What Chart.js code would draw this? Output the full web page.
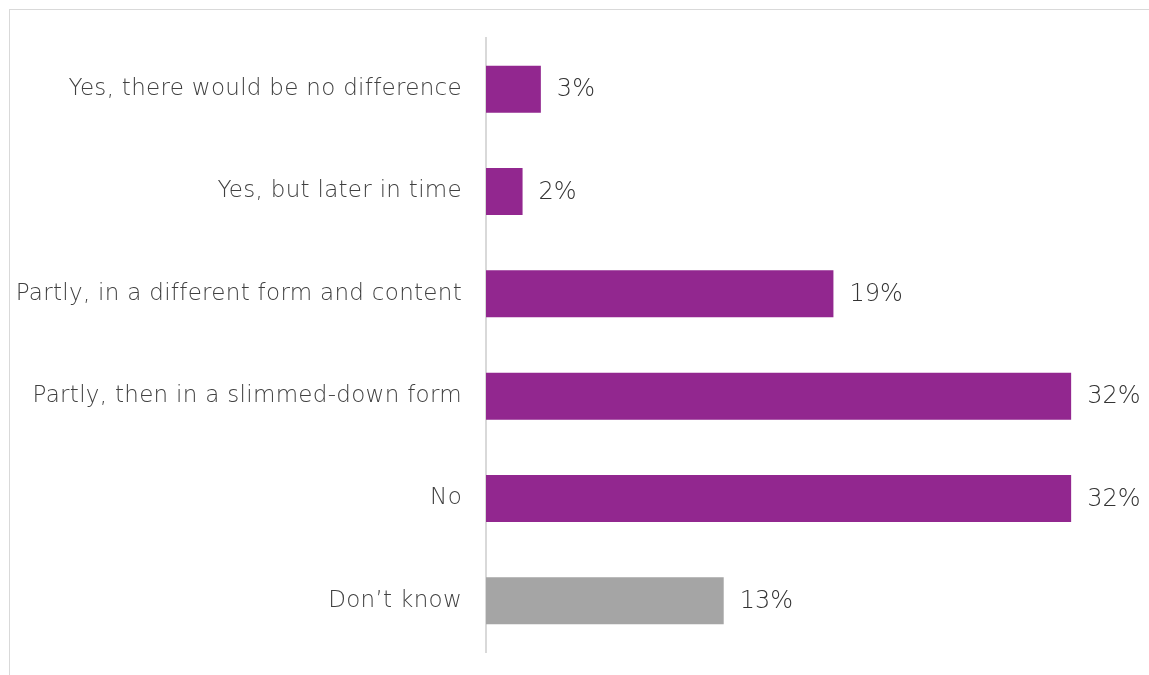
<!DOCTYPE html>
<html>
<head>
<meta charset="utf-8">
<script src="https://cdn.jsdelivr.net/npm/chart.js@4"></script>
<style>
  html, body { margin: 0; padding: 0; background: #fff; overflow: hidden; }
  #frame {
    position: absolute; left: 9px; top: 9px; width: 1200px; height: 700px;
    border: 1px solid #d9d9d9;
  }
  #wrap { position: absolute; left: 0; top: 0; width: 1149px; height: 675px; }
</style>
</head>
<body>
<div id="frame"></div>
<div id="wrap"><canvas id="chart"></canvas></div>
<script>
const categories = [
  'Yes, there would be no difference',
  'Yes, but later in time',
  'Partly, in a different form and content',
  'Partly, then in a slimmed-down form',
  'No',
  'Don\u2019t know'
]
const shares = [3, 2, 19, 32, 32, 13]
const barColors = ['#92278F', '#92278F', '#92278F', '#92278F', '#92278F', '#A5A5A5']

const FONT = '"DejaVu Sans", sans-serif'

// slightly wider letter spacing for the category labels
const spacing = {
  id: 'spacing',
  beforeDraw(chart) { chart.ctx.letterSpacing = '0.3px' }
}

// value labels at the end of each bar
const valueLabels = {
  id: 'valueLabels',
  afterDatasetsDraw(chart) {
    const ctx = chart.ctx
    const meta = chart.getDatasetMeta(0)
    ctx.save()
    ctx.font = '300 24px ' + FONT
    ctx.letterSpacing = '0px'
    ctx.fillStyle = '#333333'
    ctx.textAlign = 'left'
    ctx.textBaseline = 'middle'
    meta.data.forEach((bar, i) => {
      ctx.fillText(shares[i] + '%', bar.x + 16, bar.y + 1)
    })
    ctx.restore()
  }
}

new Chart(document.getElementById('chart'), {
  type: 'bar',
  data: {
    labels: categories,
    datasets: [{
      data: shares,
      backgroundColor: barColors,
      borderWidth: 0,
      categoryPercentage: 1,
      barPercentage: 0.46
    }]
  },
  options: {
    indexAxis: 'y',
    responsive: true,
    maintainAspectRatio: false,
    animation: false,
    layout: { padding: { top: 38, bottom: 23, right: 23, left: 0 } },
    plugins: {
      legend: { display: false },
      tooltip: { enabled: false }
    },
    scales: {
      x: {
        min: 0,
        max: 35,
        display: false,
        grid: { display: false }
      },
      y: {
        afterFit(scale) {
          // fixed label column; the tick padding should not eat vertical space
          scale.width = 486
          scale.paddingTop = 0
          scale.paddingBottom = 0
        },
        grid: { display: false, drawTicks: false },
        border: { display: true, color: '#d9d9d9', width: 2 },
        ticks: {
          padding: 24,
          color: '#404040',
          font: { family: FONT, size: 23, weight: '300' }
        }
      }
    }
  },
  plugins: [spacing, valueLabels]
})
</script>
</body>
</html>
